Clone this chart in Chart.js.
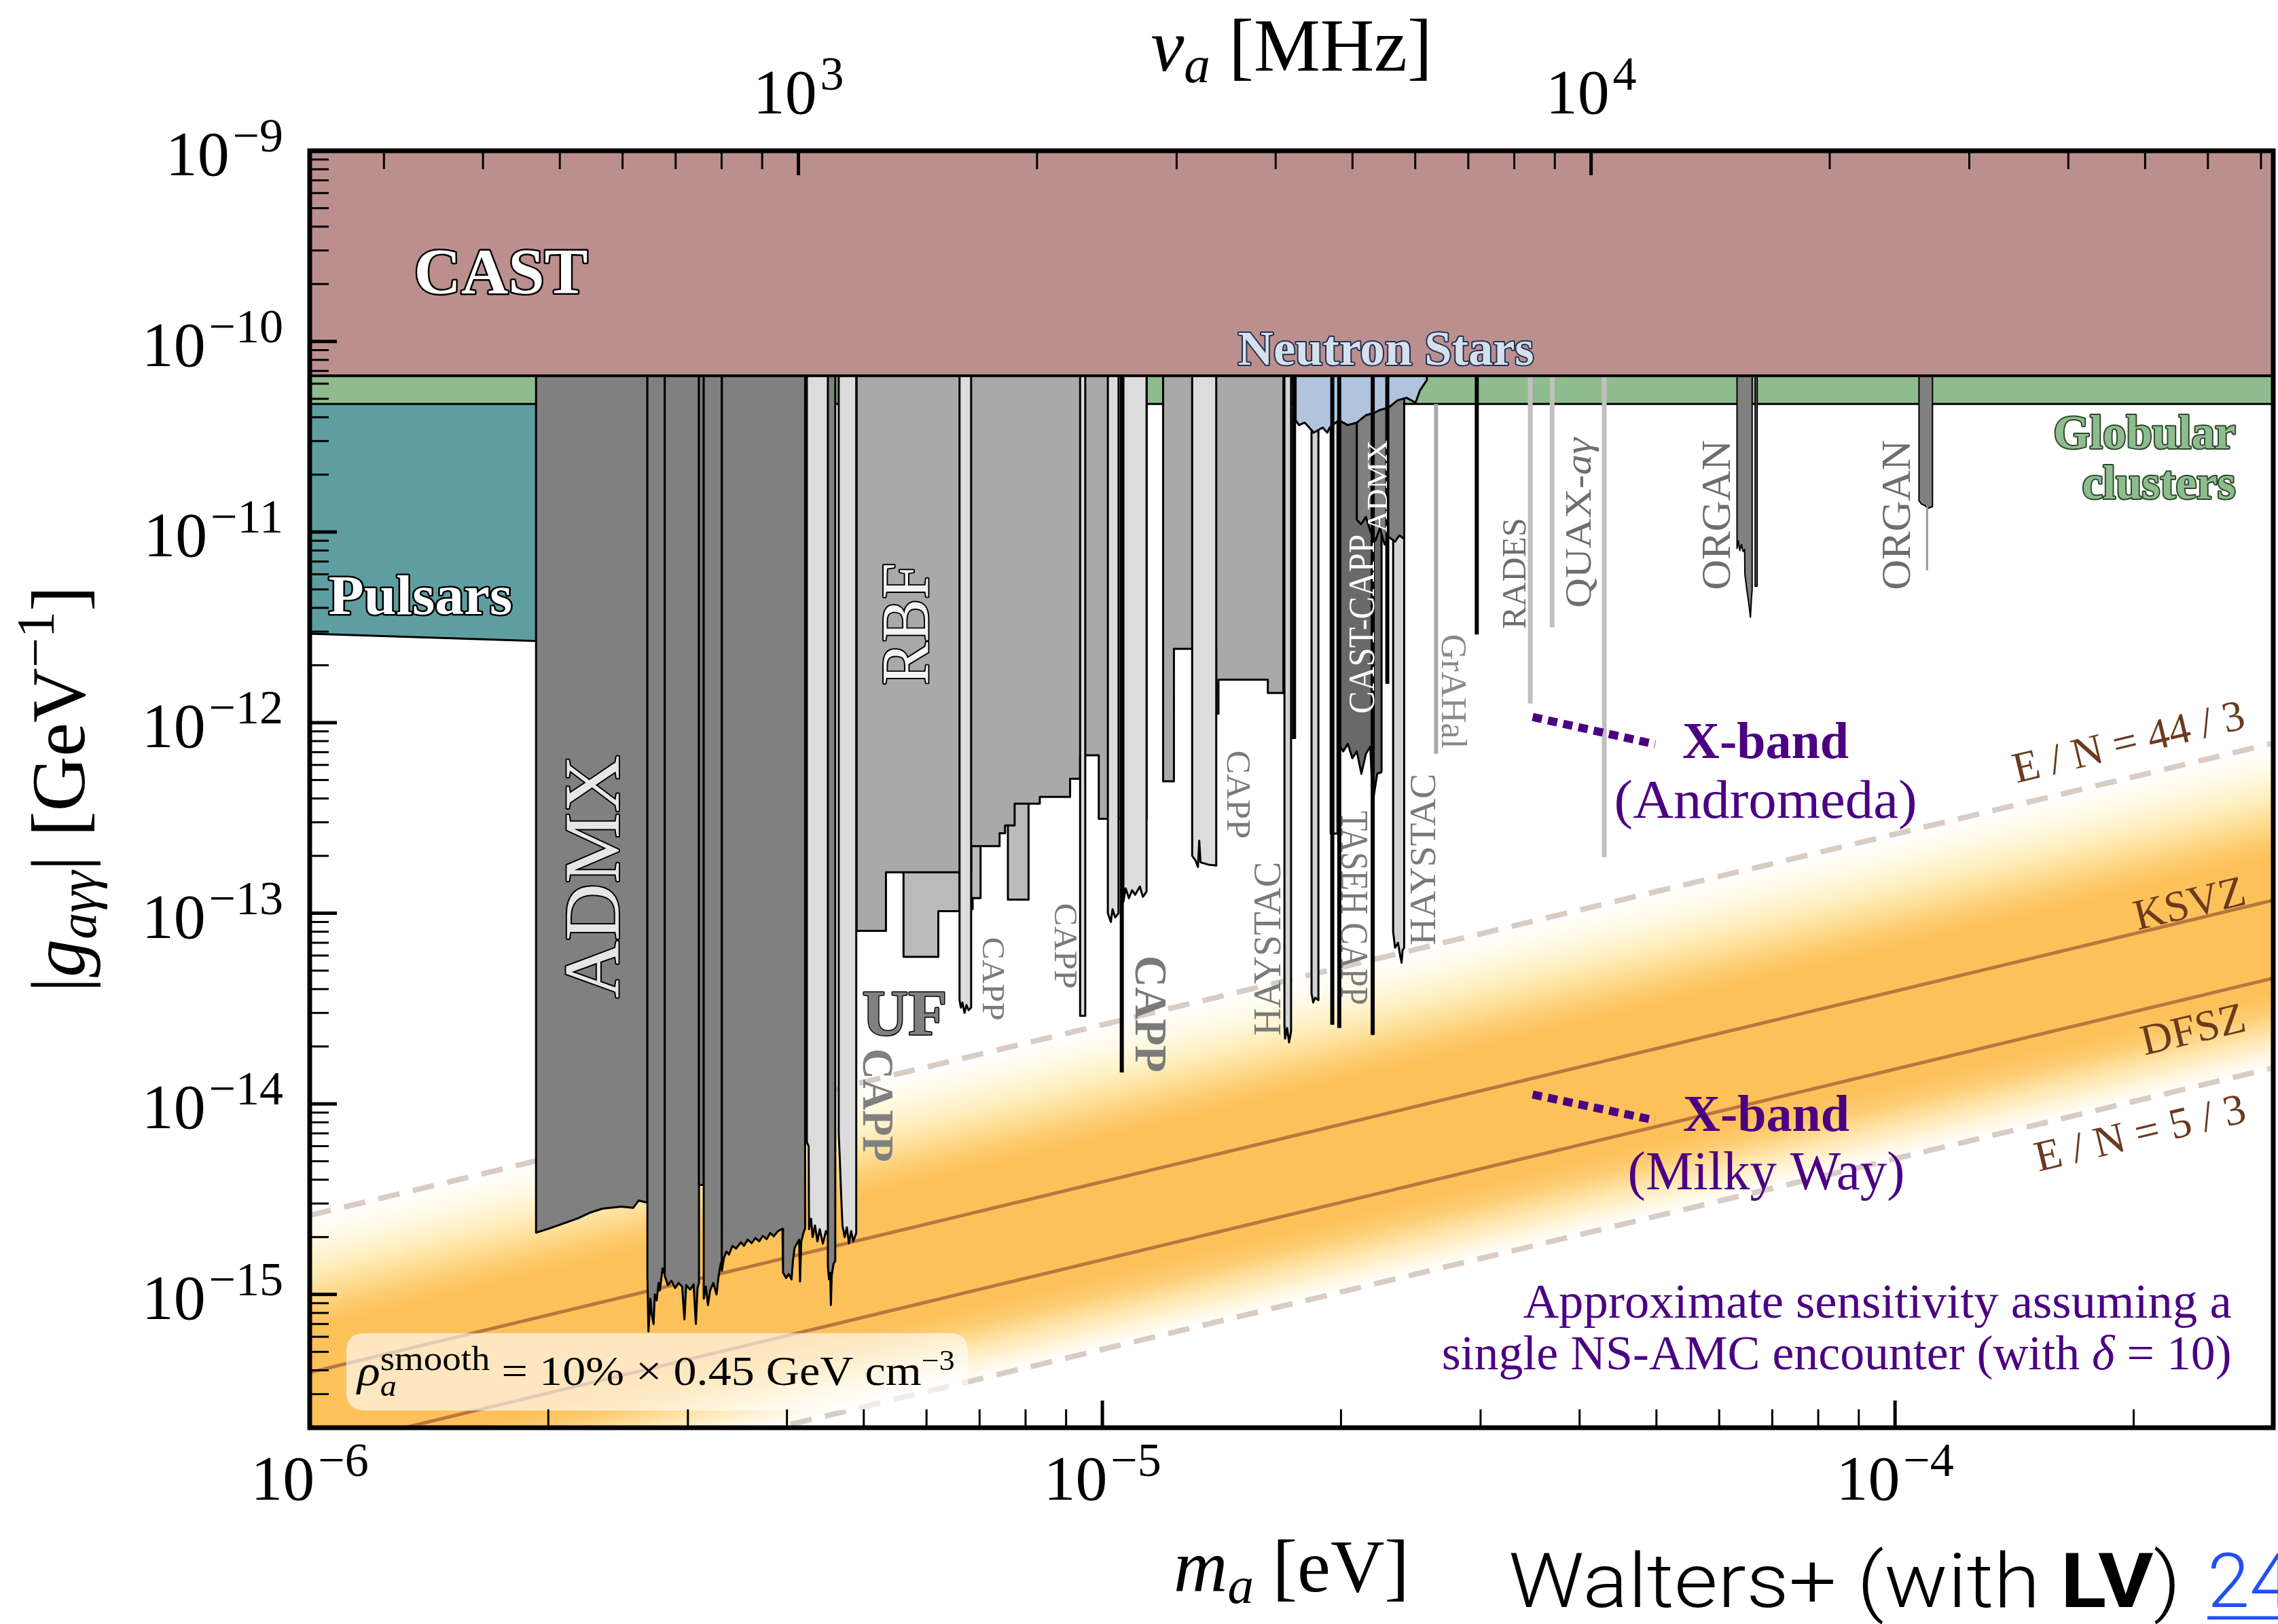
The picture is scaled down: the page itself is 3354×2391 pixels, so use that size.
<!DOCTYPE html>
<html>
<head>
<meta charset="utf-8">
<title>Axion–photon coupling: haloscope limits and X-band NS–AMC sensitivity</title>
<script src="https://cdn.jsdelivr.net/npm/chart.js@4.4.1/dist/chart.umd.min.js"></script>
<style>
html, body { margin: 0; padding: 0; background: #fff; }
canvas { display: block; }
</style>
</head>
<body>
<canvas id="plot" width="3354" height="2391"></canvas>
<script>
// ---------- axis ranges ----------
const M_MIN = 1e-6, M_MAX = 3e-4;     // axion mass [eV]
const G_MIN = 2e-16, G_MAX = 1e-9;    // |g_agg| [GeV^-1]
const EV_PER_MHZ = 4.135667e-9;       // h in eV per MHz (top frequency axis)

// ---------- ticks ----------
const massMajorTicks = [1e-6, 1e-5, 1e-4];
const massTickExponents = ['\u22126', '\u22125', '\u22124'];
const couplingMajorTicks = [1e-9, 1e-10, 1e-11, 1e-12, 1e-13, 1e-14, 1e-15];
const couplingTickExponents = ['\u22129', '\u221210', '\u221211', '\u221212', '\u221213', '\u221214', '\u221215'];
const freqMajorTicks = [1e3, 1e4];              // MHz
const freqTickExponents = ['3', '4'];
const minorMultipliers = [2, 3, 4, 5, 6, 7, 8, 9];

// ---------- QCD axion band (couplings at the two ends of the mass range) ----------
const massEnds = [1e-6, 3e-4];
const ksvzLine = [3.9e-16, 1.17e-13];
const dfszLine = [1.52e-16, 4.56e-14];
const en44over3 = [2.6e-15, 7.8e-13];
const en5over3 = [5.15e-17, 1.545e-14];

// ---------- astrophysics / helioscope ----------
const castLimit = 6.6e-11;
const globularLimit = 4.7e-11;
const pulsarsLimit = [[1e-6, 2.93e-12], [1.93e-6, 2.68e-12]];
const neutronStars = [[1.753e-5, 3.86e-11], [1.77e-5, 3.64e-11], [1.80e-5, 3.75e-11], [1.824e-5, 3.53e-11],
  [1.848e-5, 3.32e-11], [1.873e-5, 3.43e-11], [1.897e-5, 3.53e-11], [1.922e-5, 3.32e-11], [1.935e-5, 3.53e-11],
  [1.987e-5, 3.86e-11], [2.04e-5, 3.64e-11], [2.094e-5, 3.75e-11], [2.15e-5, 4.1e-11], [2.207e-5, 4.23e-11],
  [2.236e-5, 4.36e-11], [2.296e-5, 4.49e-11], [2.357e-5, 4.91e-11], [2.419e-5, 5.06e-11], [2.484e-5, 4.77e-11],
  [2.516e-5, 5.54e-11], [2.566e-5, 6.25e-11]];

// ---------- haloscopes: [mass (eV), coupling (GeV^-1)] along the lower edge ----------
const admxA = [[1.93e-6, 2.11e-15], [2.00e-6, 2.21e-15], [2.11e-6, 2.39e-15], [2.18e-6, 2.51e-15],
  [2.26e-6, 2.69e-15], [2.34e-6, 2.82e-15], [2.47e-6, 2.89e-15], [2.56e-6, 2.85e-15], [2.60e-6, 3.11e-15], [2.667e-6, 3.03e-15]];
const admxB = [[2.667e-6, 1.24e-15], [2.675e-6, 6.4e-16], [2.69e-6, 9.5e-16], [2.70e-6, 7.9e-16], [2.715e-6, 7.0e-16],
  [2.725e-6, 1.0e-15], [2.74e-6, 9.3e-16], [2.755e-6, 1.15e-15], [2.765e-6, 1.05e-15], [2.787e-6, 1.37e-15], [2.805e-6, 1.27e-15]];
const admxC = [[2.805e-6, 1.25e-15], [2.83e-6, 1.12e-15], [2.86e-6, 1.18e-15], [2.89e-6, 1.08e-15], [2.92e-6, 1.15e-15],
  [2.95e-6, 1.1e-15], [2.97e-6, 7.4e-16], [2.985e-6, 1.12e-15], [3.02e-6, 1.06e-15], [3.05e-6, 1.13e-15],
  [3.07e-6, 7.0e-16], [3.085e-6, 1.08e-15], [3.098e-6, 1.15e-15]];
const admxD = [[3.098e-6, 3.76e-15], [3.141e-6, 3.76e-15]];
const admxE = [[3.141e-6, 9.5e-16], [3.16e-6, 1.1e-15], [3.18e-6, 8.8e-16], [3.20e-6, 1.05e-15], [3.23e-6, 1.15e-15],
  [3.26e-6, 1.0e-15], [3.28e-6, 1.25e-15], [3.30e-6, 1.45e-15], [3.311e-6, 1.5e-15]];
const admxF = [[3.311e-6, 1.33e-15], [3.33e-6, 1.55e-15], [3.355e-6, 1.68e-15], [3.38e-6, 1.62e-15], [3.415e-6, 1.8e-15],
  [3.45e-6, 1.74e-15], [3.50e-6, 1.88e-15], [3.53e-6, 1.8e-15], [3.569e-6, 1.94e-15], [3.61e-6, 1.86e-15],
  [3.65e-6, 1.98e-15], [3.69e-6, 1.9e-15], [3.729e-6, 2.03e-15], [3.77e-6, 1.95e-15], [3.81e-6, 2.1e-15],
  [3.85e-6, 2.02e-15], [3.897e-6, 2.15e-15], [3.948e-6, 2.21e-15], [3.955e-6, 1.3e-15], [3.99e-6, 1.22e-15],
  [4.02e-6, 1.28e-15], [4.054e-6, 1.2e-15], [4.07e-6, 1.5e-15], [4.09e-6, 1.76e-15], [4.145e-6, 1.94e-15],
  [4.155e-6, 1.17e-15], [4.17e-6, 1.9e-15], [4.20e-6, 2.13e-15], [4.217e-6, 2.22e-15]];
const admxNarrow = [[4.505e-6, 1.4e-15], [4.52e-6, 1.2e-15], [4.535e-6, 1.3e-15], [4.545e-6, 8.8e-16],
  [4.555e-6, 1.25e-15], [4.58e-6, 1.45e-15], [4.603e-6, 1.5e-15]];
const admxHigh = [[2.094e-5, 1.16e-11], [2.12e-5, 1.1e-11], [2.15e-5, 1.2e-11], [2.18e-5, 1.0e-11], [2.21e-5, 9.0e-12],
  [2.24e-5, 1.05e-11], [2.27e-5, 8.6e-12], [2.30e-5, 9.4e-12], [2.34e-5, 8.9e-12], [2.37e-5, 9.6e-12], [2.403e-5, 9.2e-12]];

const cappG = [[4.238e-6, 6.3e-15], [4.26e-6, 6.0e-15], [4.265e-6, 2.2e-15], [4.29e-6, 2.5e-15], [4.31e-6, 2.0e-15],
  [4.34e-6, 2.3e-15], [4.37e-6, 1.9e-15], [4.40e-6, 2.2e-15], [4.44e-6, 1.85e-15], [4.48e-6, 2.15e-15], [4.522e-6, 2.0e-15]];
const cappI = [[4.649e-6, 7.0e-15], [4.665e-6, 5.0e-15], [4.68e-6, 3.5e-15], [4.70e-6, 2.3e-15], [4.73e-6, 2.0e-15],
  [4.76e-6, 2.25e-15], [4.79e-6, 1.85e-15], [4.82e-6, 2.15e-15], [4.85e-6, 1.9e-15], [4.892e-6, 2.1e-15]];
const cappJ1 = [[6.604e-6, 3.5e-14], [6.63e-6, 3.2e-14], [6.66e-6, 3.4e-14], [6.70e-6, 3.0e-14], [6.74e-6, 3.3e-14],
  [6.78e-6, 3.1e-14], [6.83e-6, 3.2e-14]];
const cappJ2 = [[9.374e-6, 2.9e-14], [9.515e-6, 2.9e-14]];
const cappJ3 = [[1.016e-5, 1.0e-13], [1.025e-5, 9.0e-14], [1.03e-5, 1.05e-13], [1.038e-5, 9.5e-14], [1.048e-5, 1.0e-13]];
const cappJ4 = [[1.063e-5, 1.15e-13], [1.07e-5, 1.35e-13], [1.08e-5, 1.2e-13], [1.09e-5, 1.32e-13], [1.10e-5, 1.25e-13],
  [1.115e-5, 1.38e-13], [1.125e-5, 1.22e-13], [1.137e-5, 1.3e-13]];
const cappJ5 = [[1.298e-5, 2.0e-13], [1.31e-5, 1.9e-13], [1.32e-5, 1.75e-13], [1.325e-5, 2.4e-13], [1.33e-5, 1.85e-13],
  [1.36e-5, 1.8e-13], [1.392e-5, 1.78e-13]];
const cappH3 = [[1.941e-5, 2.62e-13], [1.98e-5, 2.62e-13]];
const castCapp = [[1.987e-5, 7.74e-13], [2.013e-5, 7.07e-13], [2.04e-5, 7.74e-13], [2.067e-5, 6.5e-13], [2.094e-5, 7.07e-13],
  [2.122e-5, 5.39e-13], [2.15e-5, 6.85e-13], [2.178e-5, 7.5e-13], [2.193e-5, 3.8e-13], [2.222e-5, 5.4e-13], [2.25e-5, 5.5e-13]];

const haystacH1 = [[1.697e-5, 2.6e-14], [1.70e-5, 2.2e-14], [1.71e-5, 2.5e-14], [1.72e-5, 2.1e-14], [1.73e-5, 2.4e-14]];
const haystacH2 = [[1.836e-5, 3.8e-14], [1.845e-5, 3.4e-14], [1.855e-5, 3.6e-14], [1.873e-5, 3.5e-14]];
const haystacH4 = [[2.327e-5, 8.0e-14], [2.34e-5, 6.6e-14], [2.36e-5, 7.0e-14], [2.375e-5, 6.0e-14], [2.385e-5, 5.5e-14],
  [2.392e-5, 6.4e-14], [2.403e-5, 6.6e-14]];

const rbfLow = [[4.897e-6, 8.08e-14], [5.333e-6, 8.08e-14], [5.333e-6, 1.64e-13], [6.83e-6, 1.64e-13], [6.83e-6, 2.25e-13],
  [7.418e-6, 2.25e-13], [7.418e-6, 2.63e-13], [7.537e-6, 2.63e-13], [7.537e-6, 2.89e-13], [7.75e-6, 2.89e-13],
  [7.75e-6, 3.76e-13], [8.338e-6, 3.76e-13], [8.338e-6, 4.08e-13], [9.105e-6, 4.08e-13], [9.105e-6, 5.08e-13],
  [9.374e-6, 5.08e-13], [9.374e-6, 6.74e-13], [9.896e-6, 6.74e-13], [9.896e-6, 3.13e-13], [1.137e-5, 3.13e-13]];
const rbfHigh = [[1.193e-5, 4.92e-13], [1.231e-5, 4.92e-13], [1.231e-5, 2.44e-12], [1.392e-5, 2.44e-12],
  [1.392e-5, 1.114e-12], [1.401e-5, 1.114e-12], [1.401e-5, 1.68e-12], [1.617e-5, 1.68e-12], [1.617e-5, 1.431e-12],
  [1.692e-5, 1.431e-12]];
const ufLimit = [[5.612e-6, 5.9e-14], [6.209e-6, 5.9e-14], [6.209e-6, 1.025e-13], [6.604e-6, 1.025e-13]];
const ufBoxA = [[6.83e-6, 1.05e-13], [6.86e-6, 1.05e-13], [6.86e-6, 1.2e-13], [7.02e-6, 1.2e-13]];
const ufBoxB = [[7.60e-6, 1.18e-13], [8.07e-6, 1.18e-13]];

const organA = [[6.319e-5, 8.2e-12], [6.34e-5, 9.0e-12], [6.37e-5, 8.0e-12], [6.40e-5, 8.6e-12], [6.43e-5, 7.9e-12],
  [6.46e-5, 8.1e-12], [6.465e-5, 6.0e-12], [6.50e-5, 5.0e-12], [6.54e-5, 4.2e-12], [6.57e-5, 3.57e-12],
  [6.59e-5, 4.5e-12], [6.603e-5, 5.0e-12]];
const organB = [[6.66e-5, 5.2e-12], [6.70e-5, 5.2e-12]];
const organC = [[1.072e-4, 1.46e-11], [1.08e-4, 1.40e-11], [1.09e-4, 1.38e-11], [1.10e-4, 1.33e-11], [1.115e-4, 1.36e-11]];
const organCTail = [1.0975e-4, 6.29e-12];

// narrow single-mass runs: [mass, lowest coupling]
const narrowRuns = [[1.058e-5, 1.46e-14], [1.745e-5, 8.2e-13], [1.95e-5, 2.6e-14], [1.99e-5, 2.5e-14],
  [2.193e-5, 2.3e-14], [2.288e-5, 1.6e-12], [2.967e-5, 2.9e-12]];
const grahal = [2.636e-5, 6.86e-13];
const radesQuax = [[3.466e-5, 1.26e-12], [3.693e-5, 3.16e-12], [4.297e-5, 1.97e-13]];

// X-band sensitivity (single NS-AMC encounter)
const xbandAndromeda = [[3.49e-5, 1.07e-12], [4.98e-5, 7.7e-13]];
const xbandMilkyWay = [[3.49e-5, 1.12e-14], [4.98e-5, 8.2e-15]];

// ---------- helpers ----------
const SERIF = "'Liberation Serif', 'Times New Roman', serif";
const CAP = 0.655;
const pts = arr => arr.map(([x, y]) => ({x, y}));
const zip = (xs, ys) => xs.map((x, i) => [x, ys[i]]);
const toTop = arr => [{x: arr[0][0], y: G_MAX}, ...pts(arr), {x: arr[arr.length - 1][0], y: G_MAX}];

function region(arr, color, extra) {
  return Object.assign({data: toTop(arr), backgroundColor: color, borderColor: '#000', borderWidth: 3,
    fill: 'end', borderJoinStyle: 'round'}, extra || {});
}
function vline(m, gTop, gBottom, color, width) {
  return {data: [{x: m, y: gTop}, {x: m, y: gBottom}], borderColor: color, borderWidth: width, fill: false, borderCapStyle: 'butt'};
}

// soft orange fill across the QCD band, graded perpendicular to the lines
function bandFill(c) {
  const chart = c.chart;
  if (!chart.chartArea) return 'rgba(0,0,0,0)';
  const xs = chart.scales.x, ys = chart.scales.y;
  const ax = xs.getPixelForValue(massEnds[0]), ay = ys.getPixelForValue(en44over3[0]);
  const bx = xs.getPixelForValue(massEnds[1]), by = ys.getPixelForValue(en44over3[1]);
  const lx = xs.getPixelForValue(massEnds[0]), ly = ys.getPixelForValue(en5over3[0]);
  let dx = bx - ax, dy = by - ay; const L = Math.hypot(dx, dy); dx /= L; dy /= L;
  const nx = -dy, ny = dx;
  const dist = (lx - ax) * nx + (ly - ay) * ny;
  const g = chart.ctx.createLinearGradient(ax, ay, ax + nx * dist, ay + ny * dist);
  g.addColorStop(0.00, '#ffffff');
  g.addColorStop(0.07, '#fffbea');
  g.addColorStop(0.15, '#fff1c6');
  g.addColorStop(0.22, '#fee19c');
  g.addColorStop(0.29, '#fdcd72');
  g.addColorStop(0.35, '#fdc15a');
  g.addColorStop(0.77, '#fdc15a');
  g.addColorStop(0.83, '#fdcd74');
  g.addColorStop(0.89, '#fee4a8');
  g.addColorStop(0.95, '#fff5da');
  g.addColorStop(1.00, '#ffffff');
  return g;
}

// ---------- datasets, listed bottom layer first ----------
const LIGHT = '#dcdcdc', HAY = '#d3d3d3', ADMX = '#808080', RBF = '#a9a9a9', UFC = '#bababa';
const ds = [];
ds.push({data: pts(zip(massEnds, en44over3)), borderColor: 'rgba(0,0,0,0)', borderWidth: 0, fill: '+1', backgroundColor: bandFill});
ds.push({data: pts(zip(massEnds, en5over3)), borderColor: 'rgba(0,0,0,0)', borderWidth: 0, fill: false});
ds.push({data: pts(zip(massEnds, en44over3)), borderColor: '#d9ccc4', borderWidth: 8, borderDash: [32, 20], fill: false});
ds.push({data: pts(zip(massEnds, en5over3)), borderColor: '#d9ccc4', borderWidth: 8, borderDash: [32, 20], fill: false});
ds.push({data: pts(zip(massEnds, ksvzLine)), borderColor: '#b8773f', borderWidth: 5, fill: false});
ds.push({data: pts(zip(massEnds, dfszLine)), borderColor: '#b8773f', borderWidth: 5, fill: false});
ds.push({data: pts(pulsarsLimit), backgroundColor: '#5f9ea0', borderColor: '#000', borderWidth: 3, fill: {value: globularLimit}});
ds.push({data: pts([[M_MIN, globularLimit], [M_MAX, globularLimit]]), backgroundColor: '#8fbc8f', borderColor: '#000', borderWidth: 3, fill: 'end'});
// runs partly hidden behind neutron-star / ADMX regions
ds.push(region(haystacH2, HAY));
ds.push(region(cappH3, LIGHT));
ds.push(region(castCapp, '#696969'));
ds.push(region(haystacH4, HAY));
// UF boxes under RBF
ds.push(region(ufLimit, UFC));
ds.push(region(ufBoxA, UFC));
ds.push(region(ufBoxB, UFC));
ds.push(region(rbfLow, RBF));
ds.push(region(rbfHigh, RBF));
[cappJ1, cappJ2, cappJ3, cappJ4, cappJ5].forEach(a => ds.push(region(a, LIGHT)));
[admxA, admxB, admxC, admxD, admxE, admxF].forEach(a => ds.push(region(a, ADMX)));
ds.push(region(cappG, LIGHT));
ds.push(region(admxNarrow, ADMX));
ds.push(region(cappI, LIGHT));
ds.push(region(haystacH1, HAY));
ds.push(region(admxHigh, ADMX));
ds.push(region(neutronStars, '#b0c4de'));
narrowRuns.forEach(([m, g]) => ds.push(vline(m, castLimit, g, '#000', 6)));
ds.push(vline(grahal[0], globularLimit, grahal[1], '#aaaaaa', 6));
radesQuax.forEach(([m, g]) => ds.push(vline(m, castLimit, g, '#c0c0c0', 7)));
ds.push(region(organA, ADMX, {borderWidth: 2}));
ds.push(region(organB, ADMX, {borderWidth: 2}));
ds.push(region(organC, ADMX, {borderWidth: 2}));
ds.push(vline(organCTail[0], 1.36e-11, organCTail[1], '#999999', 3));
ds.push({data: pts([[M_MIN, castLimit], [M_MAX, castLimit]]), backgroundColor: '#bc8f8f', borderColor: '#000', borderWidth: 4, fill: 'end'});
ds.push({data: pts(xbandAndromeda), borderColor: '#4b0082', borderWidth: 12, borderDash: [14, 9], fill: false, borderCapStyle: 'butt'});
ds.push({data: pts(xbandMilkyWay), borderColor: '#4b0082', borderWidth: 12, borderDash: [14, 9], fill: false, borderCapStyle: 'butt'});
ds.forEach((d, i) => { d.order = ds.length - i; d.pointRadius = 0; });

// ---------- text drawing ----------
function fontStr(p) {
  return `${p.style || 'normal'} ${p.weight || 'normal'} ${p.size}px ${p.family || SERIF}`;
}
function drawRich(ctx, parts, x, y, o) {
  o = o || {};
  ctx.save();
  ctx.translate(x, y);
  if (o.rot) ctx.rotate(o.rot * Math.PI / 180);
  let total = 0, prevStart = 0;
  const pos = [];
  for (const p of parts) {
    ctx.font = fontStr(p);
    const w = ctx.measureText(p.t).width;
    let start;
    if (p.stack) { start = prevStart; total = Math.max(total, start + w); }
    else { start = total; total = start + w; }
    pos.push([start, w]);
    prevStart = start;
  }
  const sx = o.len ? o.len / total : 1;
  ctx.scale(sx, 1);
  const x0 = o.align === 'center' ? -total / 2 : o.align === 'right' ? -total : 0;
  const base = o.capCenter ? parts[0].size * CAP / 2 : 0;
  ctx.textAlign = 'left';
  ctx.textBaseline = 'alphabetic';
  parts.forEach((p, i) => {
    ctx.font = fontStr(p);
    const px = x0 + pos[i][0], py = base + (p.dy || 0);
    if (o.stroke) {
      ctx.lineJoin = 'round';
      ctx.lineWidth = o.sw || 5;
      ctx.strokeStyle = o.stroke;
      ctx.strokeText(p.t, px, py);
    }
    ctx.fillStyle = p.color || o.color || '#000';
    ctx.fillText(p.t, px, py);
    if (p.underline) ctx.fillRect(px, py + p.size * 0.12, pos[i][1], Math.max(3, p.size * 0.045));
  });
  ctx.restore();
}

// labels placed at (mass, coupling); position marks the centre of the capitals
const regionLabels = [
  {t: 'CAST', m: 1.743e-6, g: 2.32e-10, size: 96, weight: 'bold', color: '#fff', stroke: '#000', sw: 5},
  {t: 'Neutron Stars', m: 2.279e-5, g: 9.19e-11, size: 72, weight: 'bold', color: '#d6e1f0', stroke: '#22324f', sw: 4, len: 436},
  {t: 'Pulsars', m: 1.379e-6, g: 4.64e-12, size: 82, weight: 'bold', color: '#fff', stroke: '#000', sw: 5, len: 271},
  {t: 'ADMX', m: 2.274e-6, g: 1.555e-13, rot: -90, size: 117, color: '#e6e6e6', stroke: '#000', sw: 4, len: 358},
  {t: 'RBF', m: 5.643e-6, g: 3.29e-12, rot: -90, size: 100, color: '#f4f4f4', stroke: '#000', sw: 4, len: 180},
  {t: 'UF', m: 5.632e-6, g: 2.978e-14, size: 96, weight: 'bold', color: '#808080', stroke: '#000', sw: 3, len: 125},
  {t: 'CAPP', m: 5.206e-6, g: 9.84e-15, rot: 90, size: 66, weight: 'bold', color: '#808080', len: 167},
  {t: 'CAPP', m: 7.278e-6, g: 4.52e-14, rot: 90, size: 47, color: '#7a7a7a', len: 123},
  {t: 'CAPP', m: 8.994e-6, g: 6.73e-14, rot: 90, size: 49, color: '#7a7a7a', len: 126},
  {t: 'CAPP', m: 1.1515e-5, g: 2.965e-14, rot: 90, size: 68, weight: 'bold', color: '#7a7a7a', len: 172},
  {t: 'CAPP', m: 1.4849e-5, g: 4.195e-13, rot: 90, size: 50, color: '#7a7a7a', len: 130},
  {t: 'HAYSTAC', m: 1.6175e-5, g: 6.516e-14, rot: -90, size: 56, color: '#7a7a7a', len: 256},
  {t: 'TASEH CAPP', m: 2.0803e-5, g: 1.066e-13, rot: 90, size: 58, color: '#7a7a7a', len: 286},
  {t: 'CAST-CAPP', m: 2.127e-5, g: 3.29e-12, rot: -90, size: 54, color: '#ffffff', len: 264},
  {t: 'ADMX', m: 2.222e-5, g: 1.738e-11, rot: -90, size: 42, color: '#ffffff', len: 136},
  {t: 'GrAHal', m: 2.773e-5, g: 1.459e-12, rot: 90, size: 52, color: '#8a8a8a', len: 169},
  {t: 'HAYSTAC', m: 2.537e-5, g: 1.916e-13, rot: -90, size: 54, color: '#7a7a7a', len: 253},
  {t: 'RADES', m: 3.311e-5, g: 6.058e-12, rot: -90, size: 50, color: '#6e6e6e', len: 164},
  {t: 'ORGAN', m: 5.942e-5, g: 1.227e-11, rot: -90, size: 62, color: '#6e6e6e', len: 221},
  {t: 'ORGAN', m: 1.0024e-4, g: 1.227e-11, rot: -90, size: 62, color: '#6e6e6e', len: 221},
];
const bandLabels = [
  {t: 'E / N = 44 / 3', m: 1.97e-4, g: 7.95e-13},
  {t: 'KSVZ', m: 2.352e-4, g: 1.13e-13},
  {t: 'DFSZ', m: 2.376e-4, g: 2.47e-14},
  {t: 'E / N = 5 / 3', m: 2.037e-4, g: 7.06e-15},
];

const overlay = {
  id: 'overlay',
  afterDatasetsDraw(chart) {
    const ctx = chart.ctx, xs = chart.scales.x, ys = chart.scales.y;
    const X = m => xs.getPixelForValue(m), Y = g => ys.getPixelForValue(g);

    // smooth-density note box
    {
      const x0 = X(1.112e-6), x1 = X(6.77e-6), y0 = Y(6.27e-16), y1 = Y(2.46e-16), r = 28;
      ctx.save();
      ctx.beginPath();
      ctx.moveTo(x0 + r, y0); ctx.lineTo(x1 - r, y0); ctx.quadraticCurveTo(x1, y0, x1, y0 + r);
      ctx.lineTo(x1, y1 - r); ctx.quadraticCurveTo(x1, y1, x1 - r, y1);
      ctx.lineTo(x0 + r, y1); ctx.quadraticCurveTo(x0, y1, x0, y1 - r);
      ctx.lineTo(x0, y0 + r); ctx.quadraticCurveTo(x0, y0, x0 + r, y0);
      ctx.closePath();
      ctx.fillStyle = 'rgba(255,255,255,0.62)';
      ctx.fill();
      ctx.restore();
      drawRich(ctx, [
        {t: '\u03c1', size: 64, style: 'italic'},
        {t: 'a', size: 44, style: 'italic', dy: 16},
        {t: 'smooth', size: 50, dy: -22, stack: true},
        {t: ' = 10% \u00d7 0.45 GeV cm', size: 62},
        {t: '\u22123', size: 42, dy: -22},
      ], X(1.148e-6), Y(3.365e-16), {len: 880});
    }

    // region names
    for (const L of regionLabels) {
      drawRich(ctx, [{t: L.t, size: L.size, weight: L.weight, color: L.color}], X(L.m), Y(L.g),
        {rot: L.rot || 0, align: 'center', capCenter: true, stroke: L.stroke, sw: L.sw, len: L.len});
    }
    drawRich(ctx, [{t: 'QUAX-', size: 54, color: '#6e6e6e'}, {t: 'a\u03b3', size: 54, style: 'italic', color: '#6e6e6e'}],
      X(3.987e-5), Y(1.116e-11), {rot: -90, align: 'center', capCenter: true, len: 250});
    drawRich(ctx, [{t: 'Globular', size: 69, weight: 'bold', color: '#8fbc8f'}], X(2.689e-4), Y(2.751e-11),
      {align: 'right', stroke: '#2e4a2e', sw: 4});
    drawRich(ctx, [{t: 'clusters', size: 69, weight: 'bold', color: '#8fbc8f'}], X(2.689e-4), Y(1.5e-11),
      {align: 'right', stroke: '#2e4a2e', sw: 4});

    // QCD band labels follow the slope of the lines
    const ang = Math.atan2(Y(ksvzLine[1]) - Y(ksvzLine[0]), X(massEnds[1]) - X(massEnds[0])) * 180 / Math.PI;
    for (const L of bandLabels) {
      drawRich(ctx, [{t: L.t, size: 64, color: '#6b3a1f'}], X(L.m), Y(L.g), {rot: ang, align: 'center', capCenter: true});
    }

    // X-band annotations
    const PURPLE = '#4b0082';
    drawRich(ctx, [{t: 'X-band', size: 76, weight: 'bold', color: PURPLE}], X(6.866e-5), Y(7.98e-13), {align: 'center', capCenter: true});
    drawRich(ctx, [{t: '(Andromeda)', size: 80, color: PURPLE}], X(6.866e-5), Y(3.94e-13), {align: 'center', capCenter: true, len: 446});
    drawRich(ctx, [{t: 'X-band', size: 76, weight: 'bold', color: PURPLE}], X(6.88e-5), Y(8.84e-15), {align: 'center', capCenter: true});
    drawRich(ctx, [{t: '(Milky Way)', size: 80, color: PURPLE}], X(6.88e-5), Y(4.40e-15), {align: 'center', capCenter: true, len: 408});
    drawRich(ctx, [{t: 'Approximate sensitivity assuming a', size: 72, color: PURPLE}], X(2.658e-4), Y(7.58e-16), {align: 'right', len: 1043});
    drawRich(ctx, [
      {t: 'single NS-AMC encounter (with ', size: 72, color: PURPLE},
      {t: '\u03b4', size: 72, style: 'italic', color: PURPLE},
      {t: ' = 10)', size: 72, color: PURPLE},
    ], X(2.658e-4), Y(4.06e-16), {align: 'right', len: 1163});
  },

  afterDraw(chart) {
    const ctx = chart.ctx, a = chart.chartArea;
    const xs = chart.scales.x, ys = chart.scales.y, nus = chart.scales.nu;
    ctx.save();
    ctx.strokeStyle = '#000';
    ctx.lineCap = 'butt';
    const seg = (x0, y0, x1, y1, w) => { ctx.lineWidth = w; ctx.beginPath(); ctx.moveTo(x0, y0); ctx.lineTo(x1, y1); ctx.stroke(); };

    // inward ticks: left (coupling), bottom (mass), top (frequency)
    couplingMajorTicks.forEach(v => {
      const p = ys.getPixelForValue(v); seg(a.left, p, a.left + 40, p, 5);
      minorMultipliers.forEach(k => {
        const q = ys.getPixelForValue(v * k / 10);
        if (q > a.top + 2 && q < a.bottom - 2) seg(a.left, q, a.left + 28, q, 3);
      });
    });
    massMajorTicks.forEach(v => {
      const p = xs.getPixelForValue(v); seg(p, a.bottom, p, a.bottom - 40, 5);
      minorMultipliers.forEach(k => {
        const q = xs.getPixelForValue(v * k);
        if (q > a.left + 2 && q < a.right - 2) seg(q, a.bottom, q, a.bottom - 27, 3);
      });
    });
    [1e2, 1e3, 1e4].forEach(v => {
      minorMultipliers.forEach(k => {
        const q = nus.getPixelForValue(v * k);
        if (q > a.left + 2 && q < a.right - 2) seg(q, a.top, q, a.top + 27, 3);
      });
    });
    freqMajorTicks.forEach(v => { const p = nus.getPixelForValue(v); seg(p, a.top, p, a.top + 36, 5); });

    // frame
    ctx.lineWidth = 7;
    ctx.strokeRect(a.left, a.top, a.right - a.left, a.bottom - a.top);
    ctx.restore();

    // tick labels (10 with a raised exponent)
    const BASE = 94, EXP = 70, RAISE = 35;
    const power = (x, y, exp, align) => {
      drawRich(ctx, [{t: '10', size: BASE}, {t: '\u2009', size: 24}, {t: exp, size: EXP, dy: -RAISE}], x, y, {align});
    };
    couplingMajorTicks.forEach((v, i) => power(a.left - 39, ys.getPixelForValue(v) + 36, couplingTickExponents[i], 'right'));
    massMajorTicks.forEach((v, i) => power(xs.getPixelForValue(v), a.bottom + 106, massTickExponents[i], 'center'));
    freqMajorTicks.forEach((v, i) => power(nus.getPixelForValue(v), a.top - 55, freqTickExponents[i], 'center'));

    // axis titles
    const cx = (a.left + a.right) / 2, cy = (a.top + a.bottom) / 2;
    drawRich(ctx, [
      {t: 'm', size: 110, style: 'italic'}, {t: 'a', size: 77, style: 'italic', dy: 17}, {t: ' [eV]', size: 110},
    ], cx, a.bottom + 241, {align: 'center'});
    drawRich(ctx, [
      {t: '\u03bd', size: 110, style: 'italic'}, {t: 'a', size: 77, style: 'italic', dy: 17}, {t: ' [MHz]', size: 110},
    ], cx, a.top - 118, {align: 'center'});
    drawRich(ctx, [
      {t: '|', size: 112}, {t: 'g', size: 112, style: 'italic'}, {t: 'a\u03b3\u03b3', size: 78, style: 'italic', dy: 17},
      {t: '|', size: 112}, {t: ' [GeV', size: 112}, {t: '\u22121', size: 78, dy: -46}, {t: ']', size: 112},
    ], a.left - 332, cy, {align: 'center', rot: -90});

    // credit line
    const SANS = "Roboto, 'Liberation Sans', Arial, sans-serif";
    drawRich(ctx, [
      {t: 'Walters+ (with ', size: 112, weight: '300', family: SANS},
      {t: 'LV', size: 112, weight: 'bold', family: SANS},
      {t: ')', size: 112, weight: '300', family: SANS},
    ], 2221, 2366, {len: 990});
    drawRich(ctx, [{t: '24', size: 112, weight: '300', family: SANS, color: '#2250f4', underline: true}], 3250, 2366, {});
  }
};

const noAxis = {display: true, grid: {display: false}, border: {display: false}, ticks: {display: false}};
new Chart(document.getElementById('plot'), {
  type: 'line',
  data: {datasets: ds},
  options: {
    responsive: false,
    animation: false,
    devicePixelRatio: 1,
    events: [],
    layout: {padding: {left: 456, right: 7, top: 222, bottom: 289}},
    elements: {point: {radius: 0, hoverRadius: 0}, line: {tension: 0}},
    plugins: {legend: {display: false}, tooltip: {enabled: false}, title: {display: false}},
    scales: {
      x: Object.assign({type: 'logarithmic', position: 'bottom', min: M_MIN, max: M_MAX, afterFit: s => { s.height = 0; }}, noAxis),
      y: Object.assign({type: 'logarithmic', position: 'left', min: G_MIN, max: G_MAX, afterFit: s => { s.width = 0; }}, noAxis),
      nu: Object.assign({type: 'logarithmic', axis: 'x', position: 'top', min: M_MIN / EV_PER_MHZ, max: M_MAX / EV_PER_MHZ,
        afterFit: s => { s.height = 0; }}, noAxis),
    },
  },
  plugins: [overlay],
});
</script>
</body>
</html>
